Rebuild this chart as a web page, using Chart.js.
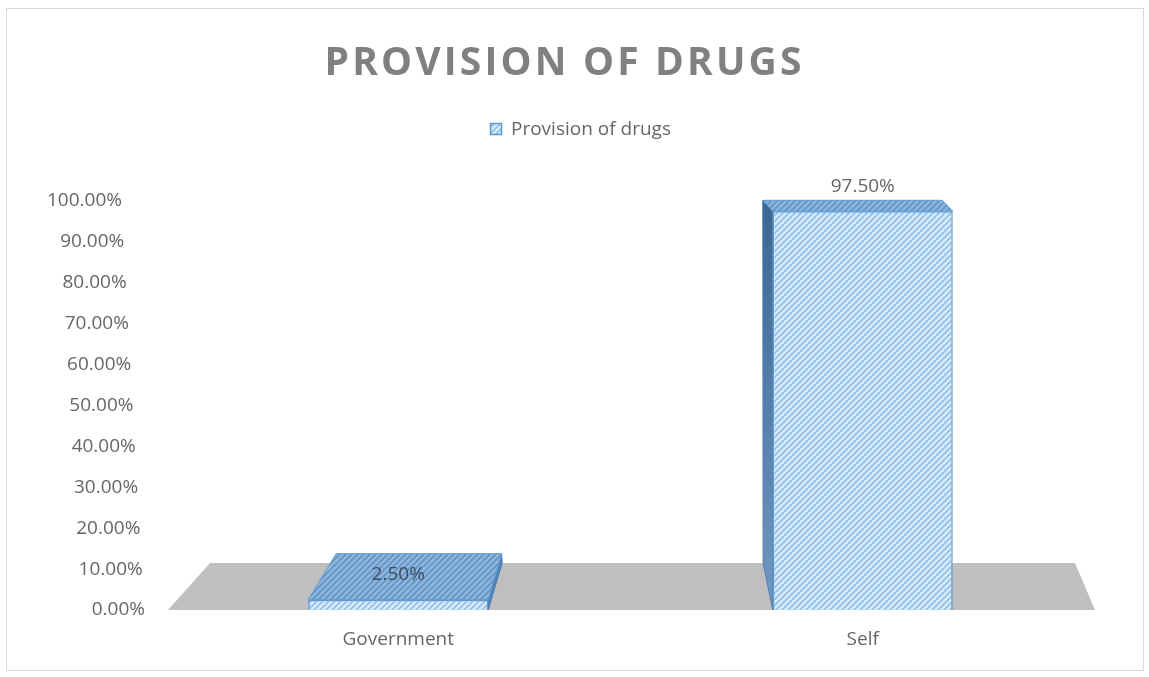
<!DOCTYPE html>
<html>
<head>
<meta charset="utf-8">
<script src="https://cdn.jsdelivr.net/npm/chart.js@4"></script>
<style>
    html, body { margin: 0; padding: 0; background: #ffffff; }
    #wrap { width: 1149px; height: 677px; }
</style>
</head>
<body>
<div id="wrap"><canvas id="drugsChart"></canvas></div>
<script>
const chartTitle = 'PROVISION OF DRUGS';
const seriesName = 'Provision of drugs';
const categories = ['Government', 'Self'];
const provisionValues = [2.5, 97.5];
const yTicks = [0, 10, 20, 30, 40, 50, 60, 70, 80, 90, 100];

const labelFont = '19px "Open Sans"';
const textColor = '#666666';

// diagonal hatch used by the bars
function makeHatch(bg, stripe) {
    const c = document.createElement('canvas');
    c.width = 6;
    c.height = 6;
    const g = c.getContext('2d');
    g.fillStyle = bg;
    g.fillRect(0, 0, 6, 6);
    g.strokeStyle = stripe;
    g.lineWidth = 1.8;
    g.beginPath();
    g.moveTo(-1, 7); g.lineTo(7, -1);
    g.moveTo(-1, 1); g.lineTo(1, -1);
    g.moveTo(5, 7); g.lineTo(7, 5);
    g.stroke();
    return g.createPattern(c, 'repeat');
}

const frontHatch = makeHatch('#d8eafa', '#93c1eb');
const topHatch = makeHatch('#8fb6dc', '#6595c6');

// where the back edge of a bar lands (rough imitation of the excel 3d view)
function backOffset(area, y0, px, py) {
    const t = (y0 - py) / (y0 - area.top);
    const vx = area.left + 0.528 * area.width;
    const bx = 0.083 * (vx - px);
    return { dx: bx * (1 - t) - 10 * t, dy: -47 * (1 - t) - 10 * t };
}

function poly(ctx, pts) {
    ctx.beginPath();
    ctx.moveTo(pts[0][0], pts[0][1]);
    for (let i = 1; i < pts.length; i++) ctx.lineTo(pts[i][0], pts[i][1]);
    ctx.closePath();
}

const excel3d = {
    id: 'excel3d',
    beforeDraw(chart) {
        const ctx = chart.ctx;
        ctx.save();
        ctx.strokeStyle = '#d9d9d9';
        ctx.lineWidth = 1;
        ctx.strokeRect(6.5, 8.5, 1137, 662);
        ctx.restore();
    },
    beforeDatasetsDraw(chart) {
        const { ctx, chartArea: a } = chart;
        const y0 = chart.scales.y.getPixelForValue(0);
        ctx.save();

        // floor
        ctx.fillStyle = '#bfbfbf';
        poly(ctx, [[a.left + 2, y0], [a.left + 44, y0 - 47], [a.right - 20, y0 - 47], [a.right, y0]]);
        ctx.fill();

        const meta = chart.getDatasetMeta(0);
        meta.data.forEach(function (bar) {
            const p = bar.getProps(['x', 'y', 'width'], true);
            const l = p.x - p.width / 2;
            const r = p.x + p.width / 2;
            const top = p.y;
            const back = function (px, py) {
                const o = backOffset(a, y0, px, py);
                return [px + o.dx, py + o.dy];
            };
            const tl = back(l, top), tr = back(r, top), bl = back(l, y0), br = back(r, y0);

            ctx.strokeStyle = '#4f7fae';
            ctx.lineWidth = 1;
            if (tl[0] < l) {
                const grad = ctx.createLinearGradient(0, top, 0, y0);
                grad.addColorStop(0, '#3d6894');
                grad.addColorStop(1, '#6f98c2');
                ctx.fillStyle = grad;
                poly(ctx, [[l, top], tl, bl, [l, y0]]);
                ctx.fill();
                ctx.stroke();
            }
            if (tr[0] > r) {
                ctx.fillStyle = '#5384b5';
                poly(ctx, [[r, top], tr, br, [r, y0]]);
                ctx.fill();
                ctx.stroke();
            }
            ctx.fillStyle = topHatch;
            poly(ctx, [[l, top], [r, top], tr, tl]);
            ctx.fill();
            ctx.strokeStyle = '#5b9bd5';
            ctx.stroke();
        });
        ctx.restore();
    },
    afterDatasetsDraw(chart) {
        const ctx = chart.ctx;
        const meta = chart.getDatasetMeta(0);
        ctx.save();
        ctx.font = labelFont;
        ctx.textAlign = 'center';
        ctx.textBaseline = 'middle';
        meta.data.forEach(function (bar, i) {
            const p = bar.getProps(['x', 'y'], true);
            ctx.fillStyle = i === 0 ? '#3f4f60' : textColor;
            ctx.fillText(provisionValues[i].toFixed(2) + '%', p.x, p.y - 25);
        });
        ctx.restore();
    },
    afterDraw(chart) {
        const { ctx, chartArea: a } = chart;
        const yScale = chart.scales.y;
        ctx.save();

        // value axis labels, leaning like the original
        ctx.font = labelFont;
        ctx.fillStyle = textColor;
        ctx.textAlign = 'right';
        ctx.textBaseline = 'middle';
        yTicks.forEach(function (v) {
            const py = yScale.getPixelForValue(v);
            const px = a.left - 44 + 23 * (1 - v / 100);
            ctx.fillText(v.toFixed(2) + '%', px, py);
        });

        // legend
        ctx.fillStyle = frontHatch;
        ctx.fillRect(490.5, 123.5, 11, 11);
        ctx.strokeStyle = '#5b9bd5';
        ctx.lineWidth = 1.5;
        ctx.strokeRect(490.5, 123.5, 11, 11);
        ctx.fillStyle = textColor;
        ctx.textAlign = 'left';
        ctx.fillText(seriesName, 511, 130);

        // title with spaced letters
        let size = 39;
        ctx.font = 'bold ' + size + 'px "Open Sans"';
        let w = ctx.measureText(chartTitle).width;
        let spacing = (477 - w) / (chartTitle.length - 1);
        if (spacing < 0) {
            size = Math.floor(size * 477 / w);
            ctx.font = 'bold ' + size + 'px "Open Sans"';
            w = ctx.measureText(chartTitle).width;
            spacing = 0;
        }
        ctx.letterSpacing = spacing + 'px';
        ctx.fillStyle = '#808080';
        ctx.textBaseline = 'alphabetic';
        ctx.fillText(chartTitle, 563 - (w + spacing * (chartTitle.length - 1)) / 2, 75);
        ctx.restore();
    }
};

const ctx = document.getElementById('drugsChart').getContext('2d');
new Chart(ctx, {
    type: 'bar',
    data: {
        labels: categories,
        datasets: [{
            label: seriesName,
            data: provisionValues,
            backgroundColor: frontHatch,
            borderColor: '#5b9bd5',
            borderWidth: 1.5,
            barPercentage: 0.3875,
            categoryPercentage: 1
        }]
    },
    options: {
        responsive: true,
        maintainAspectRatio: false,
        animation: false,
        layout: { padding: { top: 201, left: 0, right: 54, bottom: 22 } },
        plugins: {
            legend: { display: false },
            title: { display: false },
            tooltip: { enabled: false }
        },
        scales: {
            x: {
                grid: { display: false, drawTicks: false },
                border: { display: false },
                ticks: {
                    color: textColor,
                    font: { family: 'Open Sans', size: 19 },
                    padding: 18
                },
                afterFit: function (scale) { scale.height = 45; }
            },
            y: {
                min: 0,
                max: 100,
                grid: { display: false, drawTicks: false },
                border: { display: false },
                ticks: { display: false, stepSize: 10 },
                afterFit: function (scale) { scale.width = 166; }
            }
        }
    },
    plugins: [excel3d]
});
</script>
</body>
</html>
